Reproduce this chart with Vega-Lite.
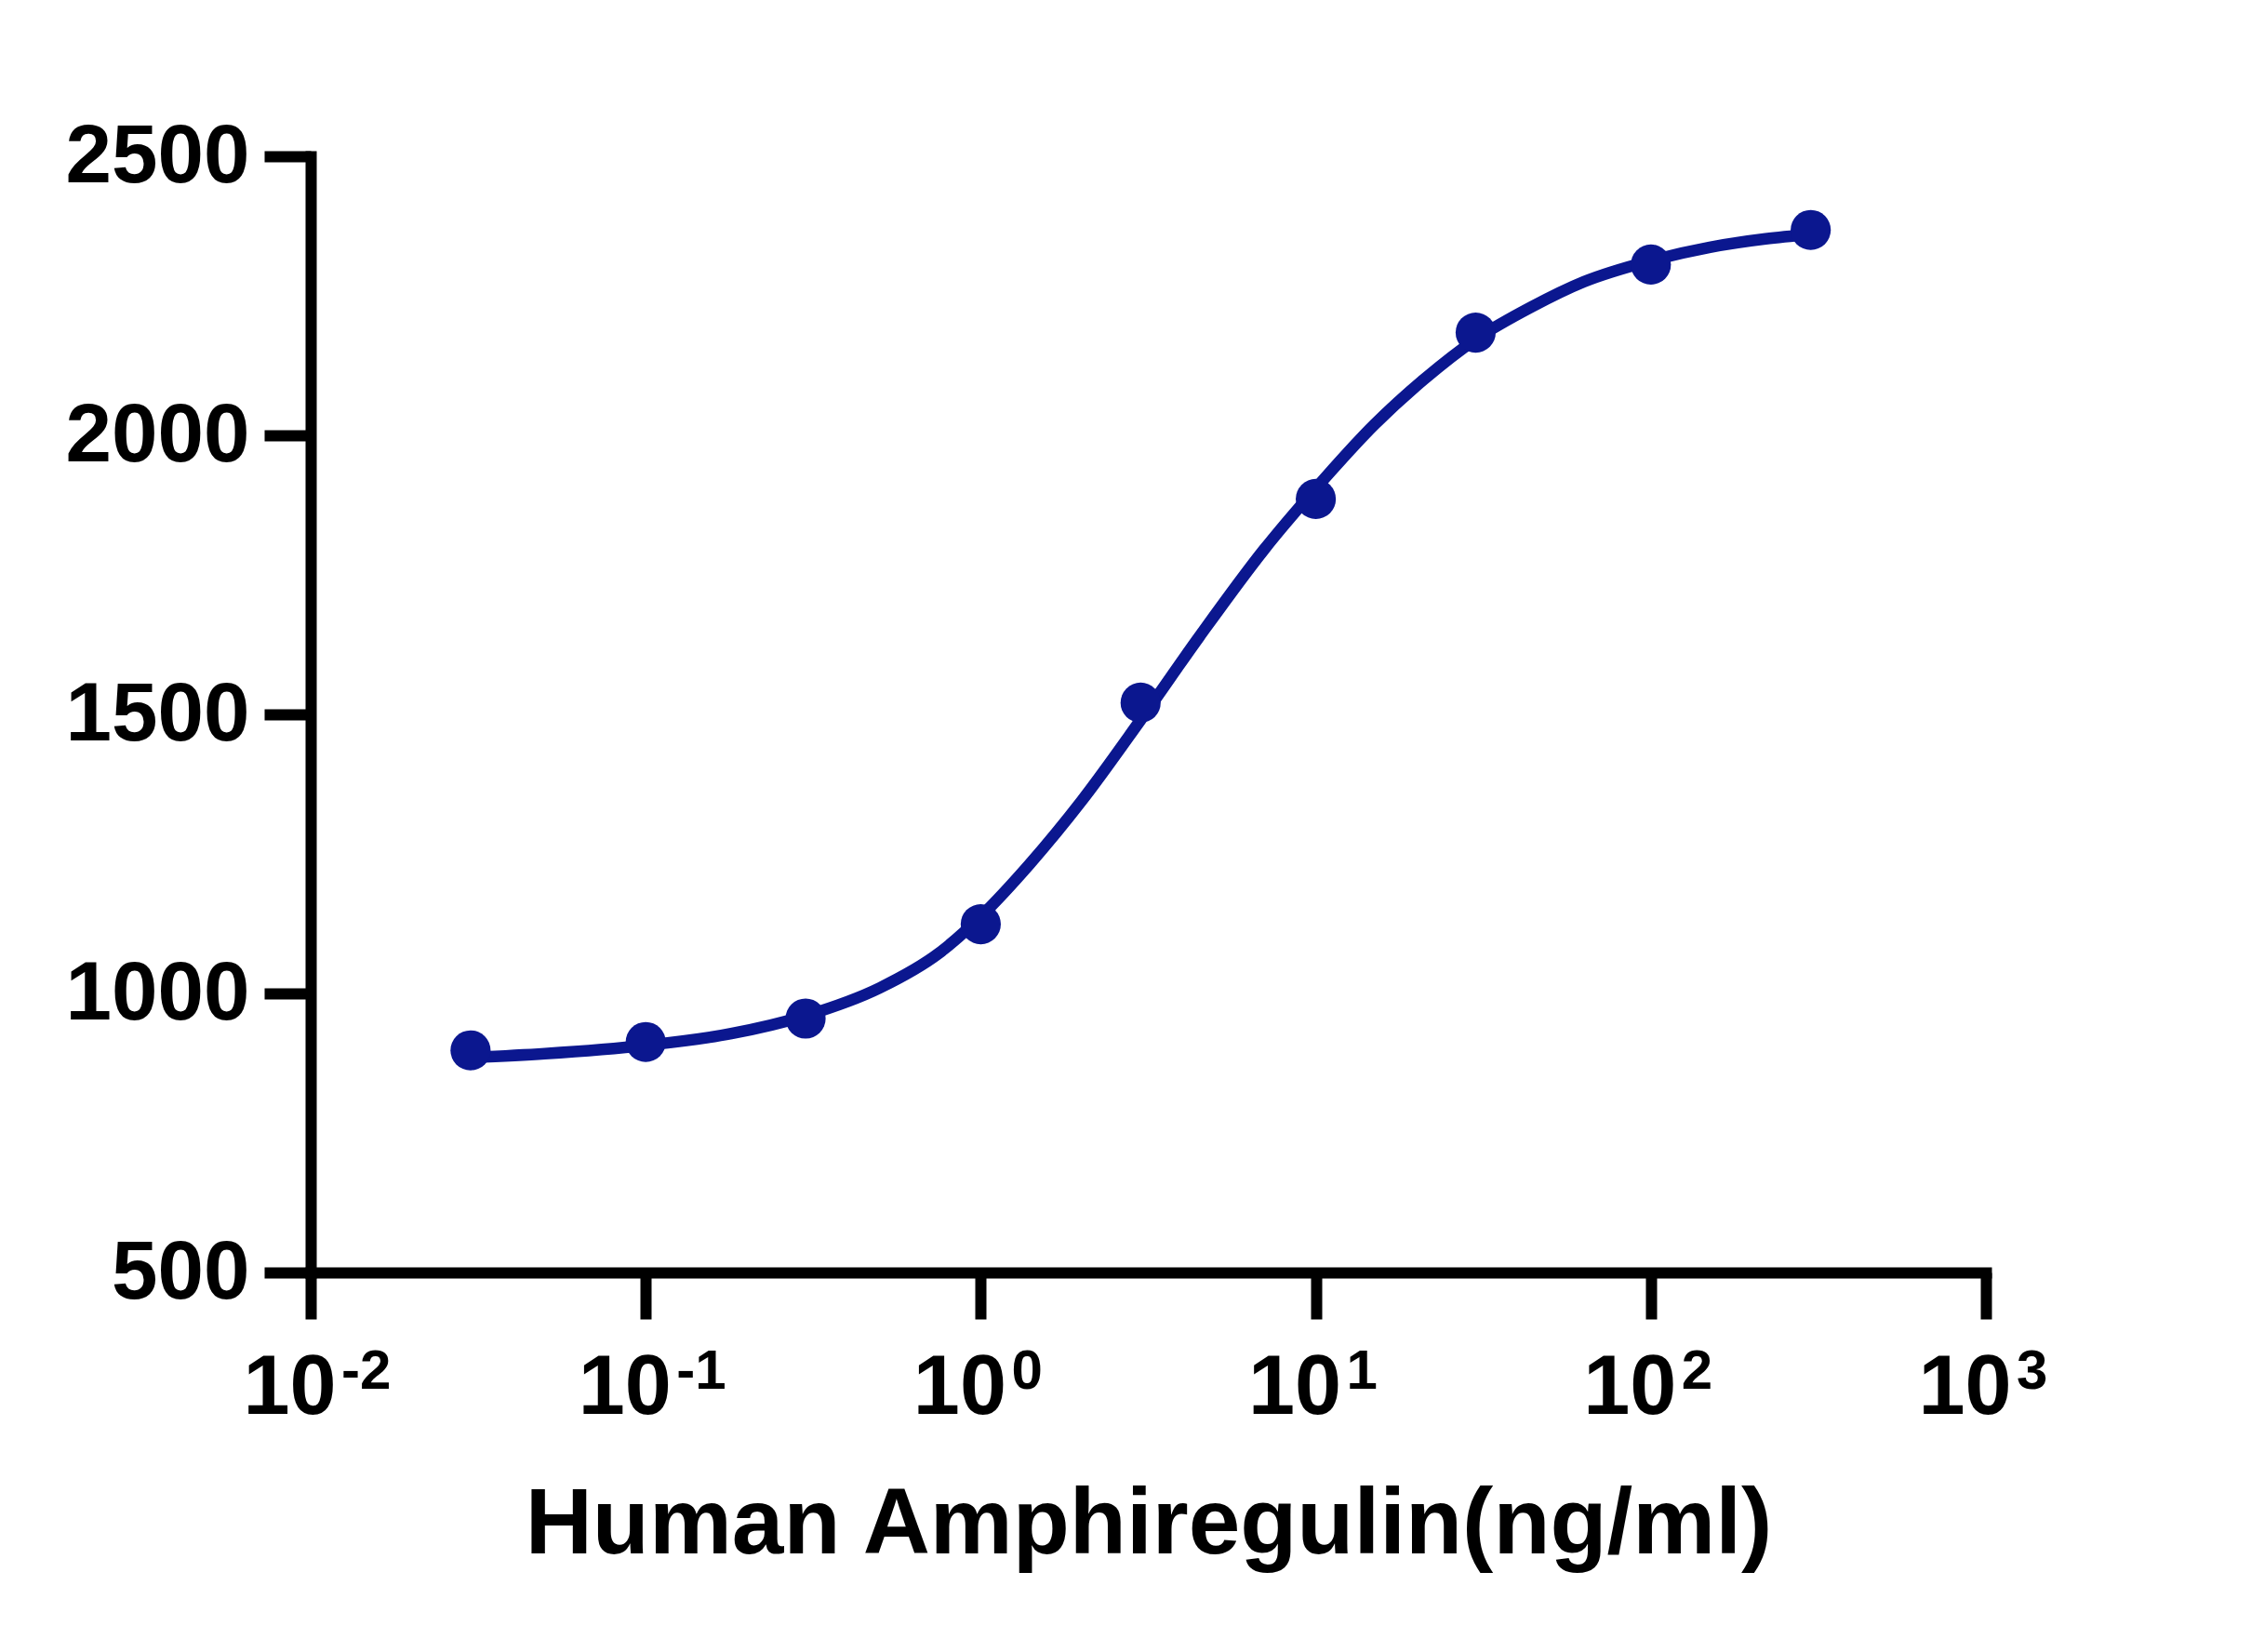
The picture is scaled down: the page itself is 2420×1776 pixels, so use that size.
{
  "$schema": "https://vega.github.io/schema/vega-lite/v6.json",
  "width": 1801,
  "height": 1200,
  "autosize": {"type": "none"},
  "padding": {"left": 334, "top": 168, "right": 285, "bottom": 408},
  "background": "white",
  "config": {
    "view": {"stroke": null},
    "axis": {
      "grid": false,
      "domainColor": "black",
      "domainWidth": 12,
      "domainCap": "square",
      "tickColor": "black",
      "tickWidth": 12,
      "tickSize": 50,
      "labelColor": "black",
      "labelFont": "Liberation Sans",
      "labelFontWeight": "bold",
      "labelFontSize": 89,
      "labelFlush": false,
      "labelOverlap": false,
      "labelLimit": 0,
      "titleColor": "black",
      "titleFont": "Liberation Sans",
      "titleFontWeight": "bold"
    }
  },
  "datasets": {
    "points": [
      {"conc": 0.03, "response": 898},
      {"conc": 0.1, "response": 913},
      {"conc": 0.3, "response": 955},
      {"conc": 1, "response": 1124},
      {"conc": 3, "response": 1521},
      {"conc": 10, "response": 1886},
      {"conc": 30, "response": 2184},
      {"conc": 100, "response": 2306},
      {"conc": 300, "response": 2368}
    ],
    "curve": [
      {"conc": 0.03, "response": 885},
      {"conc": 0.05, "response": 892},
      {"conc": 0.1, "response": 907},
      {"conc": 0.18, "response": 928},
      {"conc": 0.3, "response": 960},
      {"conc": 0.5, "response": 1010},
      {"conc": 0.75, "response": 1072},
      {"conc": 1.0, "response": 1138},
      {"conc": 1.4, "response": 1232},
      {"conc": 2.0, "response": 1345},
      {"conc": 3.0, "response": 1490},
      {"conc": 4.5, "response": 1640},
      {"conc": 7.0, "response": 1795},
      {"conc": 10, "response": 1905},
      {"conc": 15, "response": 2020},
      {"conc": 21, "response": 2100},
      {"conc": 30, "response": 2172},
      {"conc": 44, "response": 2230},
      {"conc": 63, "response": 2275},
      {"conc": 100, "response": 2313},
      {"conc": 150, "response": 2337},
      {"conc": 220, "response": 2352},
      {"conc": 300, "response": 2360}
    ],
    "exponents": [
      {"conc": 0.01, "exp": "-2"},
      {"conc": 0.1, "exp": "-1"},
      {"conc": 1, "exp": "0"},
      {"conc": 10, "exp": "1"},
      {"conc": 100, "exp": "2"},
      {"conc": 1000, "exp": "3"}
    ]
  },
  "layer": [
    {
      "data": {"name": "curve"},
      "mark": {"type": "line", "interpolate": "monotone", "color": "#0b178f", "strokeWidth": 12.5},
      "encoding": {
        "x": {
          "field": "conc",
          "type": "quantitative",
          "scale": {"type": "log", "domain": [0.01, 1000], "nice": false},
          "axis": {
            "values": [0.01, 0.1, 1, 10, 100, 1000],
            "labelExpr": "'10'",
            "labelFontSize": 90,
            "labelPadding": 30,
            "labelOffset": -23,
            "title": "Human Amphiregulin(ng/ml)",
            "titleFontSize": 100,
            "titleBaseline": "alphabetic",
            "titleY": 301
          }
        },
        "y": {
          "field": "response",
          "type": "quantitative",
          "scale": {"domain": [500, 2500], "nice": false, "zero": false},
          "axis": {
            "values": [500, 1000, 1500, 2000, 2500],
            "format": "d",
            "labelPadding": 16,
            "title": null
          }
        }
      }
    },
    {
      "data": {"name": "points"},
      "mark": {"type": "point", "shape": "circle", "filled": true, "size": 1860, "opacity": 1, "color": "#0b178f"},
      "encoding": {
        "x": {"field": "conc", "type": "quantitative"},
        "y": {"field": "response", "type": "quantitative"}
      }
    },
    {
      "data": {"name": "exponents"},
      "mark": {"type": "text", "align": "left", "baseline": "alphabetic", "dx": 33, "dy": 125, "font": "Liberation Sans", "fontWeight": "bold", "fontSize": 60, "color": "black", "clip": false},
      "encoding": {
        "x": {"field": "conc", "type": "quantitative"},
        "y": {"datum": 500, "type": "quantitative"},
        "text": {"field": "exp", "type": "nominal"}
      }
    }
  ]
}
